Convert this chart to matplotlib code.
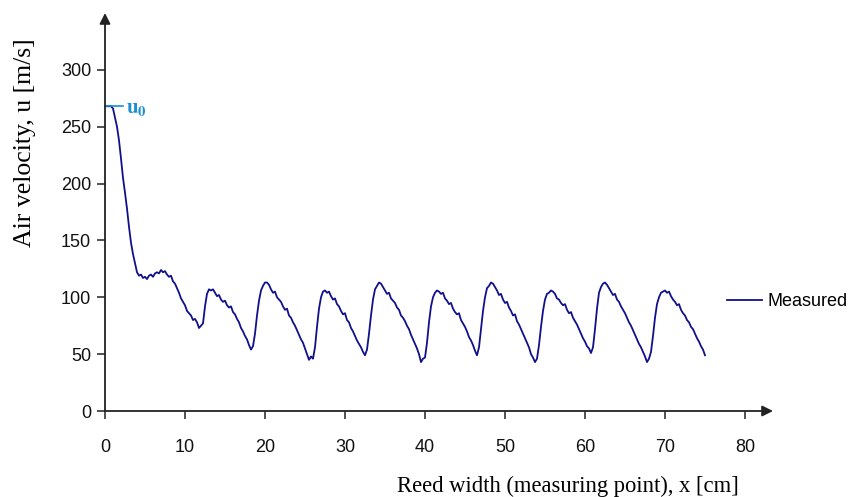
import matplotlib
matplotlib.use('Agg')
import matplotlib.pyplot as plt
import numpy as np

plt.rcParams['font.family'] = ['Liberation Sans', 'DejaVu Sans']
plt.rcParams['mathtext.fontset'] = 'stix'

# 测点位置 (cm), 每 0.25 cm 一个点; 每行 = 1 cm
x_cm = np.arange(0, 75.25, 0.25)
u_vals = [
    268, 268, 268, 268,   # 0
    266, 258, 250, 238,   # 1
    222, 205, 192, 178,   # 2
    162, 148, 138, 130,   # 3
    122, 119, 120, 117,   # 4
    118, 116, 119, 120,   # 5
    118, 121, 122, 121,   # 6
    124, 122, 123, 120,   # 7
    118, 119, 114, 112,   # 8
    108, 104, 99, 96,     # 9
    93, 88, 86, 84,       # 10
    80, 81, 78, 73,       # 11
    75, 77, 92, 103,      # 12
    107, 106, 107, 104,   # 13
    101, 102, 98, 96,     # 14
    97, 93, 91, 92,       # 15
    87, 85, 81, 78,       # 16
    73, 70, 66, 63,       # 17
    58, 54, 57, 68,       # 18
    84, 97, 106, 110,     # 19
    113, 113, 111, 107,   # 20
    104, 105, 100, 98,    # 21
    96, 92, 89, 90,       # 22
    84, 82, 78, 75,       # 23
    71, 67, 63, 60,       # 24
    55, 50, 45, 48,       # 25
    46, 56, 74, 90,       # 26
    100, 105, 106, 104,   # 27
    105, 101, 98, 99,     # 28
    94, 92, 88, 85,       # 29
    86, 80, 78, 73,       # 30
    70, 66, 62, 59,       # 31
    56, 52, 49, 54,       # 32
    68, 84, 98, 107,      # 33
    110, 113, 112, 109,   # 34
    106, 103, 104, 99,    # 35
    97, 95, 91, 89,       # 36
    84, 82, 79, 75,       # 37
    72, 67, 63, 59,       # 38
    55, 50, 43, 46,       # 39
    47, 60, 78, 92,       # 40
    100, 104, 106, 105,   # 41
    103, 104, 99, 97,     # 42
    94, 95, 90, 87,       # 43
    85, 86, 80, 77,       # 44
    74, 70, 65, 62,       # 45
    58, 53, 49, 56,       # 46
    72, 88, 100, 108,     # 47
    110, 113, 112, 109,   # 48
    106, 102, 103, 98,    # 49
    95, 96, 91, 88,       # 50
    84, 85, 79, 76,       # 51
    72, 68, 64, 60,       # 52
    56, 50, 47, 43,       # 53
    46, 58, 74, 88,       # 54
    98, 103, 104, 106,    # 55
    105, 103, 99, 98,     # 56
    95, 93, 94, 89,       # 57
    86, 87, 82, 79,       # 58
    76, 72, 68, 64,       # 59
    61, 57, 55, 51,       # 60
    56, 72, 90, 104,      # 61
    109, 112, 113, 111,   # 62
    108, 105, 102, 103,   # 63
    98, 96, 92, 89,       # 64
    86, 82, 78, 75,       # 65
    71, 67, 63, 59,       # 66
    56, 52, 48, 43,       # 67
    46, 52, 66, 82,       # 68
    94, 100, 104, 105,    # 69
    106, 104, 105, 101,   # 70
    98, 96, 93, 94,       # 71
    89, 86, 84, 80,       # 72
    78, 74, 72, 68,       # 73
    64, 61, 57, 54,       # 74
    49,                   # 75
]
u0 = 268
xticks = [0, 10, 20, 30, 40, 50, 60, 70, 80]
yticks = [0, 50, 100, 150, 200, 250, 300]

fig = plt.figure(figsize=(8.53, 4.97), dpi=100)
ax = fig.add_axes([105/853, 1-411/497, 668/853, 398/497])
ax.set_xlim(0, 83.5)
ax.set_ylim(0, 350)

ax.plot(x_cm, u_vals, color='#10108c', lw=1.3, label='Measured')

# 坐标轴带箭头
for s in ax.spines.values():
    s.set_visible(False)
ax.annotate('', xy=(1, 0), xytext=(0, 0), xycoords='axes fraction',
            arrowprops=dict(arrowstyle='-|>', color='#222222', lw=1.3,
                            mutation_scale=16, shrinkA=0, shrinkB=0))
ax.annotate('', xy=(0, 1), xytext=(0, 0), xycoords='axes fraction',
            arrowprops=dict(arrowstyle='-|>', color='#222222', lw=1.3,
                            mutation_scale=16, shrinkA=0, shrinkB=0))

ax.set_xticks(xticks)
ax.set_yticks(yticks)
ax.tick_params(direction='out', length=6, width=1.2, color='#333333',
               labelsize=13, labelcolor='#111111')
ax.tick_params(axis='x', pad=14)
ax.tick_params(axis='y', pad=4)

# u0 标注
ax.plot([0, 2.3], [u0, u0], color='#1a8fd0', lw=1.2, clip_on=False)
ax.text(2.6, u0 - 2, r'$\mathbf{u_0}$', color='#1a8fd0', fontsize=15,
        va='center', ha='left')

fig.text(568/853, 1-486/497, 'Reed width (measuring point), x [cm]',
         family='Liberation Serif', fontsize=16.3, ha='center', va='center')
fig.text(25/853, 1-143/497, 'Air velocity, u [m/s]', family='Liberation Serif',
         fontsize=18.5, rotation=90, ha='center', va='center')

ax.legend(loc='center left', bbox_to_anchor=(727/853, 1-302/497),
          bbox_transform=fig.transFigure, frameon=False, fontsize=13,
          handlelength=1.95, handletextpad=0.3, borderpad=0, borderaxespad=0)

plt.savefig('out.png', dpi=100)
